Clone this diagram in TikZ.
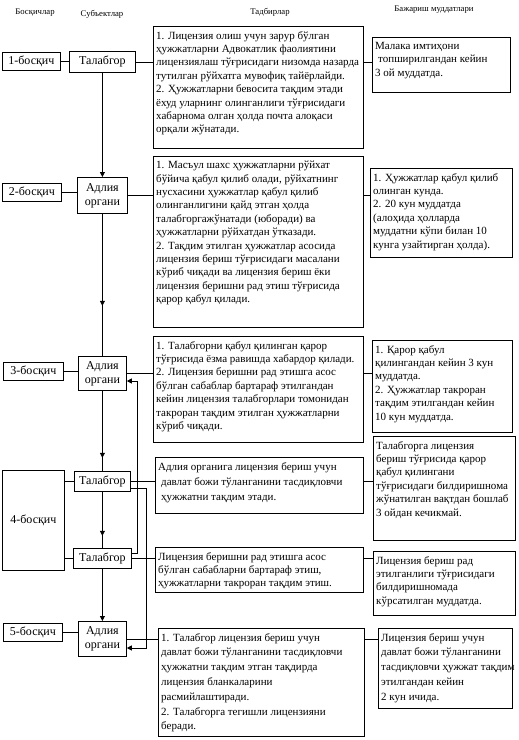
\documentclass[tikz,border=0pt]{standalone}
\usepackage{fontspec}
\setmainfont{Liberation Serif}
\usetikzlibrary{arrows.meta,decorations.markings,calc}
\tikzset{
  box/.style={draw, line width=0.8pt, anchor=north west, inner sep=0pt},
  txt/.style={anchor=north west, align=left, inner xsep=3pt, inner ysep=5pt, font=\fontsize{11}{13.4}\selectfont},
  lbl/.style={font=\fontsize{12}{14}\selectfont, align=center},
  hdr/.style={font=\fontsize{8.7}{9}\selectfont, inner sep=0pt},
  ln/.style={line width=0.8pt},
  tip/.style={-{Triangle[length=5pt,width=5pt]}},
  midtip/.style={postaction={decorate}, decoration={markings, mark=at position #1 with {\arrow{Triangle[length=5pt,width=5pt]}}}}
}
\begin{document}
\begin{tikzpicture}[x=1pt,y=-1pt]
\useasboundingbox (0,0) rectangle (519,740);
% headers
\node[hdr] (h1) at (35,13) {Босқичлар};
\node[hdr] (h2) at (102,14) {Субъектлар};
\node[hdr] (h3) at (270,12) {Тадбирлар};
\node[hdr] (h4) at (434,10) {Бажариш муддатлари};
% stage boxes
\node[box, lbl, minimum width=58pt, minimum height=18pt] (s1) at (2,52) {1-босқич};
\node[box, lbl, minimum width=59pt, minimum height=18pt] (s2) at (2,183) {2-босқич};
\node[box, lbl, minimum width=60pt, minimum height=18pt] (s3) at (3,362) {3-босқич};
\node[box, lbl, minimum width=62pt, minimum height=100pt] (s4) at (2,470) {4-босқич};
\node[box, lbl, minimum width=59pt, minimum height=18pt] (s5) at (3,623) {5-босқич};
% subject boxes
\node[box, lbl, minimum width=66pt, minimum height=21pt] (tal1) at (69,51) {Талабгор};
\node[box, lbl, minimum width=50pt, minimum height=36pt] (ad2) at (77,177) {Адлия\\органи};
\node[box, lbl, minimum width=48pt, minimum height=34pt] (ad3) at (78,356) {Адлия\\органи};
\node[box, lbl, minimum width=56pt, minimum height=20pt] (tal4a) at (74,471) {Талабгор};
\node[box, lbl, minimum width=58pt, minimum height=20pt] (tal4b) at (73,548) {Талабгор};
\node[box, lbl, minimum width=48pt, minimum height=35pt] (ad5) at (78,621) {Адлия\\органи};
% activity boxes
\node[box, minimum width=210pt, minimum height=122pt] (t1) at (153,26) {};
\node[txt] (t1t) at (t1.north west) {1. Лицензия олиш учун зарур бўлган\\ҳужжатларни Адвокатлик фаолиятини\\лицензиялаш тўғрисидаги низомда назарда\\тутилган рўйхатга мувофиқ тайёрлайди.\\2. Ҳужжатларни бевосита тақдим этади\\ёхуд уларнинг олинганлиги тўғрисидаги\\хабарнома олган ҳолда почта алоқаси\\орқали жўнатади.};
\node[box, minimum width=210pt, minimum height=171pt] (t2) at (153,156) {};
\node[txt] (t2t) at (t2.north west) {1. Масъул шахс ҳужжатларни рўйхат\\бўйича қабул қилиб олади, рўйхатнинг\\нусхасини ҳужжатлар қабул қилиб\\олинганлигини қайд этган ҳолда\\талабгоргажўнатади (юборади) ва\\ҳужжатларни рўйхатдан ўтказади.\\2. Тақдим этилган ҳужжатлар асосида\\лицензия бериш тўғрисидаги масалани\\кўриб чиқади ва лицензия бериш ёки\\лицензия беришни рад этиш тўғрисида\\қарор қабул қилади.};
\node[box, minimum width=210pt, minimum height=106pt] (t3) at (153,336) {};
\node[txt] (t3t) at (t3.north west) {1. Талабгорни қабул қилинган қарор\\тўғрисида ёзма равишда хабардор қилади.\\2. Лицензия беришни рад этишга асос\\бўлган сабаблар бартараф этилгандан\\кейин лицензия талабгорлари томонидан\\такроран тақдим этилган ҳужжатларни\\кўриб чиқади.};
\node[box, minimum width=208pt, minimum height=56pt] (t4a) at (155,457) {};
\node[txt, font=\fontsize{11}{15}\selectfont] (t4at) at (t4a.north west) {Адлия органига лицензия бериш учун\\\hspace*{3pt}давлат божи тўланганини тасдиқловчи\\\hspace*{3pt}ҳужжатни тақдим этади.};
\node[box, minimum width=208pt, minimum height=45pt] (t4b) at (155,547) {};
\node[txt] (t4bt) at (t4b.north west) {Лицензия беришни рад этишга асос\\бўлган сабабларни бартараф этиш,\\ҳужжатларни такроран тақдим этиш.};
\node[box, minimum width=206pt, minimum height=108pt] (t5) at (158,628) {};
\node[txt, font=\fontsize{11}{14.8}\selectfont] (t5t) at (t5.north west) {1. Талабгор лицензия бериш учун\\давлат божи тўланганини тасдиқловчи\\ҳужжатни тақдим этган тақдирда\\лицензия бланкаларини\\расмийлаштиради.\\2. Талабгорга тегишли лицензияни\\беради.};
% deadline boxes
\node[box, minimum width=138pt, minimum height=55pt] (d1) at (372,37) {};
\node[txt] (d1t) at (d1.north west) {Малака имтиҳони\\\hspace*{3pt}топширилгандан кейин\\3 ой муддатда.};
\node[box, minimum width=142pt, minimum height=89pt] (d2) at (370,168) {};
\node[txt] (d2t) at (d2.north west) {1. Ҳужжатлар қабул қилиб\\олинган кунда.\\2. 20 кун муддатда\\(алоҳида ҳолларда\\муддатни кўпи билан 10\\кунга узайтирган ҳолда).};
\node[box, minimum width=140pt, minimum height=92pt] (d3) at (372,340) {};
\node[txt] (d3t) at (d3.north west) {1. Қарор қабул\\қилингандан кейин 3 кун\\муддатда.\\2. Ҳужжатлар такроран\\тақдим этилгандан кейин\\10 кун муддатда.};
\node[box, minimum width=142pt, minimum height=104pt] (d4a) at (373,436) {};
\node[txt] (d4at) at (d4a.north west) {Талабгорга лицензия\\бериш тўғрисида қарор\\қабул қилингани\\тўғрисидаги билдиришнома\\жўнатилган вақтдан бошлаб\\3 ойдан кечикмай.};
\node[box, minimum width=142pt, minimum height=64pt] (d4b) at (373,551) {};
\node[txt] (d4bt) at (d4b.north west) {Лицензия бериш рад\\этилганлиги тўғрисидаги\\билдиришномада\\кўрсатилган муддатда.};
\node[box, minimum width=134pt, minimum height=80pt] (d5) at (378,628) {};
\node[txt, font=\fontsize{11}{14.8}\selectfont] (d5t) at (d5.north west) {Лицензия бериш учун\\давлат божи тўланганини\\тасдиқловчи ҳужжат тақдим\\этилгандан кейин\\2 кун ичида.};
% stage -> subject
\draw[ln] (s1.east) -- (s1.east -| tal1.west);
\draw[ln] (s2.east) -- (s2.east -| ad2.west);
\draw[ln] (s3.east) -- (s3.east -| ad3.west);
\draw[ln] (s4.east |- tal4a.west) -- (tal4a.west);
\draw[ln] (s4.east |- tal4b.west) -- (tal4b.west);
\draw[ln] (s5.east) -- (s5.east -| ad5.west);
% subject -> activity
\draw[ln] (tal1.east) -- (tal1.east -| t1.west);
\draw[ln] (ad2.east) -- (ad2.east -| t2.west);
\draw[ln] (ad3.east) -- (ad3.east -| t3.west);
\draw[ln] (tal4a.east) -- (tal4a.east -| t4a.west);
\draw[ln] (tal4b.east) -- (tal4b.east -| t4b.west);
\draw[ln] (ad5.east) -- (ad5.east -| t5.west);
% activity -> deadline
\draw[ln] (t1.east |- tal1.east) -- (d1.west |- tal1.east);
\draw[ln] (t2.east |- ad2.east) -- (d2.west |- ad2.east);
\draw[ln] (t3.east |- ad3.east) -- (d3.west |- ad3.east);
\draw[ln] (t4a.east |- tal4a.east) -- (d4a.west |- tal4a.east);
\draw[ln] (t4b.east |- tal4b.east) -- (d4b.west |- tal4b.east);
\draw[ln] (t5.east |- ad5.east) -- (d5.west |- ad5.east);
% main flow
\draw[ln, tip] (tal1.south) -- (ad2.north);
\draw[ln, midtip=92pt] (ad2.south) -- (ad3.north);
\draw[ln, midtip=67pt] (ad3.south) -- (tal4a.north);
\draw[ln, midtip=44pt] (tal4a.south) -- (tal4b.north);
\draw[ln, tip] (tal4b.south) -- (ad5.north);
% return paths
\coordinate (ra) at (137,553);
\coordinate (rb) at (137,381);
\draw[ln, tip] (tal4b.east |- ra) -- (ra) -- (rb) -- (ad3.east |- rb);
\coordinate (rc) at (146,488);
\coordinate (rd) at (146,648);
\draw[ln, tip] (tal4a.east |- rc) -- (rc) -- (rd) -- (ad5.east |- rd);
\end{tikzpicture}
\end{document}
